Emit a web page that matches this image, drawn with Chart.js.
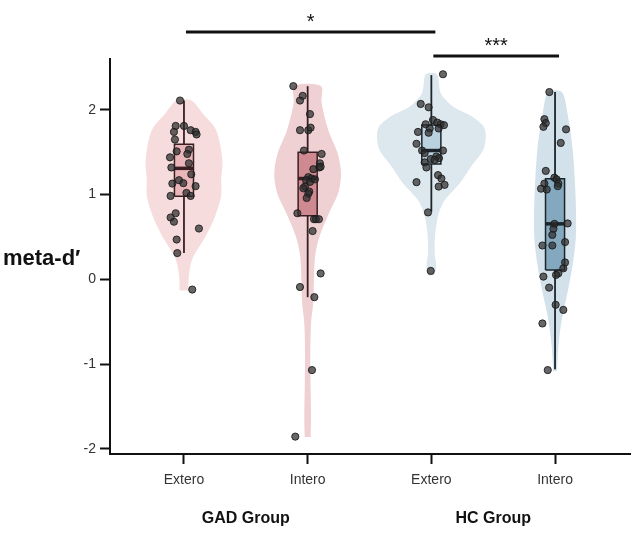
<!DOCTYPE html>
<html>
<head>
<meta charset="utf-8">
<script src="https://cdn.jsdelivr.net/npm/chart.js@4.4.1/dist/chart.umd.min.js"></script>
<style>
  html, body { margin: 0; padding: 0; background: #fff; }
  #wrap { width: 640px; height: 541px; }
</style>
</head>
<body>
<div id="wrap"><canvas id="chart"></canvas></div>
<script>
// --- Dane ---
const conditions = ['Extero', 'Intero', 'Extero', 'Intero'];
const groupNames = ['GAD Group', 'HC Group'];
const yTicks = [-2, -1, 0, 1, 2];
const yTitle = 'meta-d′';

// istotność: od warunku, do warunku, etykieta
const sigFrom = [1, 3];
const sigTo = [3, 4];
const sigLabels = ['*', '***'];

// box plot: kwartyle, mediany, wąsy
const boxQ1 = [0.98, 0.75, 1.36, 0.11];
const boxMedian = [1.31, 1.19, 1.52, 0.655];
const boxQ3 = [1.595, 1.50, 1.82, 1.186];
const whiskerLow = [0.31, -0.21, 0.80, -1.06];
const whiskerHigh = [2.11, 2.28, 2.41, 2.21];

// kontury skrzypiec (poziom y, połowa szerokości)
const gadExteroViolinY = [-0.13, 0.05, 0.25, 0.47, 0.70, 0.98, 1.17, 1.41, 1.76, 1.96, 2.11];
const gadExteroViolinW = [0.035, 0.04, 0.07, 0.16, 0.24, 0.30, 0.30, 0.31, 0.26, 0.15, 0.06];
const gadInteroViolinY = [-1.86, -1.62, -1.30, -0.91, -0.52, -0.28, -0.05, 0.27, 0.50, 0.78, 1.02, 1.25, 1.49, 1.76, 2.08, 2.28];
const gadInteroViolinW = [0.024, 0.027, 0.024, 0.021, 0.027, 0.045, 0.05, 0.06, 0.094, 0.172, 0.247, 0.27, 0.242, 0.167, 0.113, 0.107];
const hcExteroViolinY = [0.05, 0.15, 0.31, 0.55, 0.78, 0.94, 1.135, 1.33, 1.53, 1.70, 1.81, 1.93, 2.04, 2.20, 2.42];
const hcExteroViolinW = [0.025, 0.04, 0.027, 0.032, 0.06, 0.11, 0.23, 0.32, 0.42, 0.44, 0.42, 0.32, 0.175, 0.075, 0.045];
const hcInteroViolinY = [-1.08, -0.79, -0.48, -0.16, 0.15, 0.47, 0.78, 1.17, 1.57, 1.96, 2.21];
const hcInteroViolinW = [0.015, 0.027, 0.054, 0.10, 0.14, 0.167, 0.17, 0.16, 0.14, 0.10, 0.055];

// punkty (wartość, przesunięcie jitter)
const gadExteroY = [2.11, 1.81, 1.81, 1.74, 1.76, 1.74, 1.71, 1.65, 1.53, 1.48, 1.51, 1.44, 1.37, 1.32, 1.24, 1.17, 1.135, 1.13, 1.10, 1.02, 0.985, 0.985, 0.78, 0.73, 0.68, 0.60, 0.47, 0.31, -0.12];
const gadExteroJitter = [-0.032, -0.067, 0, -0.081, 0.054, 0.094, 0.102, -0.073, 0.04, 0.027, -0.059, -0.113, 0.04, -0.102, 0.059, -0.04, -0.005, -0.094, 0.094, 0.02, 0.054, -0.108, -0.067, -0.108, -0.081, 0.121, -0.059, -0.054, 0.067];
const gadInteroY = [2.28, 2.165, 2.11, 1.95, 1.76, 1.76, 1.79, 1.52, 1.48, 1.37, 1.32, 1.30, 1.33, 1.206, 1.19, 1.17, 1.15, 1.18, 1.095, 1.075, 1.036, 1.01, 0.96, 0.78, 0.71, 0.71, 0.71, 0.57, 0.07, -0.09, -0.21, -1.07, -1.855];
const gadInteroJitter = [-0.116, -0.04, -0.062, 0.019, -0.062, 0.005, 0.024, -0.03, 0.113, 0.099, 0.094, 0.046, 0.105, 0.005, 0.032, -0.013, 0.019, 0.059, -0.022, -0.035, 0.013, 0.005, -0.008, -0.083, 0.051, 0.067, 0.091, 0.04, 0.105, -0.062, 0.054, 0.035, -0.1];
const hcExteroY = [2.42, 2.07, 2.03, 1.88, 1.83, 1.85, 1.83, 1.82, 1.78, 1.78, 1.74, 1.73, 1.60, 1.52, 1.52, 1.49, 1.45, 1.43, 1.42, 1.41, 1.38, 1.32, 1.23, 1.19, 1.147, 1.115, 1.095, 0.79, 0.10];
const hcExteroJitter = [0.094, -0.086, -0.022, 0.013, -0.046, 0.048, 0.075, 0.102, -0.013, 0.059, -0.108, -0.022, -0.12, -0.075, 0.094, -0.054, 0.04, 0.062, -0.005, 0.027, -0.054, -0.04, 0.054, 0.081, -0.12, 0.107, 0.059, -0.027, -0.005];
const hcInteroY = [2.21, 1.89, 1.844, 1.80, 1.77, 1.61, 1.28, 1.20, 1.18, 1.13, 1.10, 1.13, 1.07, 1.06, 0.655, 0.66, 0.596, 0.525, 0.40, 0.40, 0.44, 0.20, 0.13, 0.072, 0.053, 0.033, -0.097, -0.30, -0.36, -0.52, -1.07];
const hcInteroJitter = [-0.046, -0.086, -0.075, -0.094, 0.089, 0.046, -0.075, -0.005, 0.013, 0.027, 0.022, -0.086, -0.113, -0.067, -0.005, 0.102, -0.013, -0.022, -0.102, -0.022, 0.081, 0.081, 0.067, 0.027, 0.008, -0.094, -0.048, 0.005, 0.067, -0.102, -0.059];

// --- Style ---
const violinColors = ['#f6dcdc', '#efd0d3', '#dde7ee', '#d3e2ea'];
const boxColors = ['#e9b6b9', '#cf8990', '#bad1e0', '#84a9be'];
const lineColors = ['#3a1f22', '#3a1f22', '#1c252b', '#1c252b'];
const BOX_HALF = 0.077;
const FONT = '"Liberation Sans", Arial, sans-serif';

const violinY = [gadExteroViolinY, gadInteroViolinY, hcExteroViolinY, hcInteroViolinY];
const violinW = [gadExteroViolinW, gadInteroViolinW, hcExteroViolinW, hcInteroViolinW];
const pointsY = [gadExteroY, gadInteroY, hcExteroY, hcInteroY];
const pointsJitter = [gadExteroJitter, gadInteroJitter, hcExteroJitter, hcInteroJitter];

function violinOutline(center, ys, ws) {
    const right = ys.map((y, i) => ({ x: center + ws[i], y }));
    const left = ys.map((y, i) => ({ x: center - ws[i], y })).reverse();
    return right.concat(left);
}

const datasets = [];
conditions.forEach((c, i) => {
    const cx = i + 1;
    // skrzypce
    datasets.push({
        data: violinOutline(cx, violinY[i], violinW[i]),
        showLine: true, fill: 'shape', tension: 0.3,
        backgroundColor: violinColors[i], borderWidth: 0,
        pointRadius: 0, pointHitRadius: 0, order: 5
    });
    // wąsy
    datasets.push({
        data: [{ x: cx, y: whiskerLow[i] }, { x: cx, y: whiskerHigh[i] }],
        showLine: true, borderColor: lineColors[i], borderWidth: 1.8,
        pointRadius: 0, order: 4
    });
    // pudełko
    datasets.push({
        data: [
            { x: cx - BOX_HALF, y: boxQ1[i] }, { x: cx + BOX_HALF, y: boxQ1[i] },
            { x: cx + BOX_HALF, y: boxQ3[i] }, { x: cx - BOX_HALF, y: boxQ3[i] },
            { x: cx - BOX_HALF, y: boxQ1[i] }
        ],
        showLine: true, fill: 'shape', tension: 0,
        backgroundColor: boxColors[i], borderColor: lineColors[i], borderWidth: 1.5,
        pointRadius: 0, order: 3
    });
    // mediana
    datasets.push({
        data: [{ x: cx - BOX_HALF, y: boxMedian[i] }, { x: cx + BOX_HALF, y: boxMedian[i] }],
        showLine: true, borderColor: lineColors[i], borderWidth: 3.5,
        borderCapStyle: 'butt', pointRadius: 0, order: 2
    });
    // punkty
    datasets.push({
        data: pointsY[i].map((y, k) => ({ x: cx + pointsJitter[i][k], y })),
        showLine: false, pointRadius: 3.6,
        backgroundColor: 'rgba(45,45,45,0.72)', borderColor: 'rgba(25,25,25,0.85)', borderWidth: 1,
        order: 1
    });
});

const annotationPlugin = {
    id: 'annotations',
    afterDraw(chart) {
        const { ctx, chartArea, scales: { x, y } } = chart;
        ctx.save();
        ctx.fillStyle = '#111';

        // tytuł osi Y (poziomo)
        ctx.font = `bold 22px ${FONT}`;
        ctx.textAlign = 'left';
        ctx.textBaseline = 'alphabetic';
        ctx.fillText(yTitle, 3, y.getPixelForValue(0) - 14);

        ctx.textAlign = 'center';
        ctx.textBaseline = 'middle';
        // nazwy grup
        ctx.font = `bold 16px ${FONT}`;
        groupNames.forEach((g, i) => {
            ctx.fillText(g, x.getPixelForValue(2 * i + 1.5), 519);
        });

        // klamry istotności
        const barY = [chartArea.top - 27, chartArea.top - 3];
        sigLabels.forEach((label, i) => {
            const x1 = x.getPixelForValue(sigFrom[i]) + 2;
            const x2 = x.getPixelForValue(sigTo[i]) + 4;
            ctx.strokeStyle = '#111';
            ctx.lineWidth = 3;
            ctx.beginPath();
            ctx.moveTo(x1, barY[i]);
            ctx.lineTo(x2, barY[i]);
            ctx.stroke();
            ctx.font = `20px ${FONT}`;
            ctx.fillText(label, (x1 + x2) / 2, barY[i] - 10);
        });
        ctx.restore();
    }
};

new Chart(document.getElementById('chart'), {
    type: 'scatter',
    data: { datasets },
    plugins: [annotationPlugin],
    options: {
        responsive: true,
        maintainAspectRatio: false,
        animation: false,
        layout: { padding: { top: 59, right: 10, left: 0, bottom: 0 } },
        plugins: { legend: { display: false }, tooltip: { enabled: false } },
        scales: {
            x: {
                type: 'linear', min: 0.402, max: 4.606,
                afterBuildTicks: scale => { scale.ticks = conditions.map((_, i) => ({ value: i + 1 })); },
                afterFit: scale => { scale.height = 87; },
                ticks: {
                    autoSkip: false, maxRotation: 0, padding: 8,
                    color: '#333', font: { family: FONT, size: 14 },
                    callback: (v, idx) => conditions[idx]
                },
                grid: { drawOnChartArea: false, drawTicks: true, tickLength: 10, tickColor: '#111', tickWidth: 2 },
                border: { display: true, color: '#111', width: 2 }
            },
            y: {
                type: 'linear', min: -2.06, max: 2.6,
                afterBuildTicks: scale => { scale.ticks = yTicks.map(v => ({ value: v })); },
                afterFit: scale => { scale.width = 110; },
                ticks: { padding: 4, color: '#333', font: { family: FONT, size: 14 } },
                grid: { drawOnChartArea: false, drawTicks: true, tickLength: 10, tickColor: '#111', tickWidth: 2 },
                border: { display: true, color: '#111', width: 2 }
            }
        }
    }
});
</script>
</body>
</html>
